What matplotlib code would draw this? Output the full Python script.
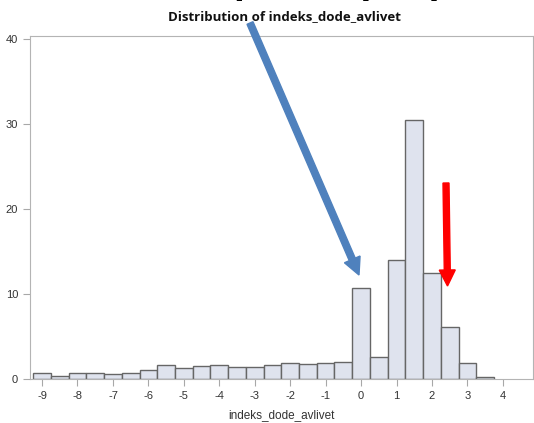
import matplotlib
matplotlib.use('Agg')
import matplotlib.pyplot as plt
from matplotlib.patches import FancyArrow

# Histogram bins (width 0.5) for indeks_dode_avlivet and bar heights (percent)
bin_centers = [-9.0, -8.5, -8.0, -7.5, -7.0, -6.5, -6.0, -5.5, -5.0, -4.5, -4.0, -3.5, -3.0,
               -2.5, -2.0, -1.5, -1.0, -0.5, 0.0, 0.5, 1.0, 1.5, 2.0, 2.5, 3.0, 3.5]
percent = [0.6, 0.3, 0.6, 0.7, 0.55, 0.7, 1.0, 1.55, 1.3, 1.5, 1.65, 1.4, 1.4,
           1.65, 1.85, 1.75, 1.8, 1.9, 10.6, 2.5, 14.0, 30.4, 12.4, 6.1, 1.8, 0.15]
bin_width = 0.5
x_ticks = [-9, -8, -7, -6, -5, -4, -3, -2, -1, 0, 1, 2, 3, 4]
y_ticks = [0, 10, 20, 30, 40]

plt.rcParams['axes.unicode_minus'] = False

W, H = 534, 423
fig = plt.figure(figsize=(W / 100, H / 100), dpi=100)
ax = fig.add_axes([30 / W, 44 / H, (533 - 30) / W, (379 - 36) / H])

ax.bar(bin_centers, percent, width=bin_width, color='#dfe3ee', edgecolor='#666666',
       linewidth=1.0, zorder=2)
ax.set_xlim(-9.34, 4.85)
ax.set_ylim(-0.05, 40.3)
ax.set_xticks(x_ticks)
ax.set_yticks(y_ticks)
ax.tick_params(colors='#a8a8a8', labelcolor='#333333', labelsize=8, length=5, width=0.8)
for s in ax.spines.values():
    s.set_color('#b4b4b4')
    s.set_linewidth(0.8)
for lbl in ax.get_xticklabels() + ax.get_yticklabels():
    lbl.set_family('Liberation Sans')
ax.set_xlabel('indeks_dode_avlivet', family='Liberation Sans', fontsize=8.5,
              color='#333333', labelpad=6)

fig.text(284 / W, 1 - 17 / H, 'Distribution of indeks_dode_avlivet', ha='center', va='center',
         fontsize=9.5, fontweight='bold', family='Open Sans', color='#111111')

# Slide heading above, mostly cut off by the top edge
for ch, px in [('p', 245), ('(', 362), (')', 437)]:
    fig.text(px / W, 1 + 17 / H, ch, ha='center', va='center', fontsize=28,
             fontweight='bold', family='Liberation Sans', color='black')

# Pointer arrows (figure inches, 100 px per inch)
def arrow(x0, y0, x1, y1, color, width, head):
    x0, x1 = x0 / 100, x1 / 100
    y0, y1 = (H - y0) / 100, (H - y1) / 100
    fig.add_artist(FancyArrow(x0, y0, x1 - x0, y1 - y0, width=width / 100,
                              head_width=head / 100, head_length=head / 100,
                              length_includes_head=True, color=color,
                              transform=fig.dpi_scale_trans))

arrow(250, 23, 359, 275, '#4f81bd', 6.5, 17)
arrow(446, 183, 447.5, 286, '#ff0000', 6, 16)

fig.savefig('out.png', dpi=100)
